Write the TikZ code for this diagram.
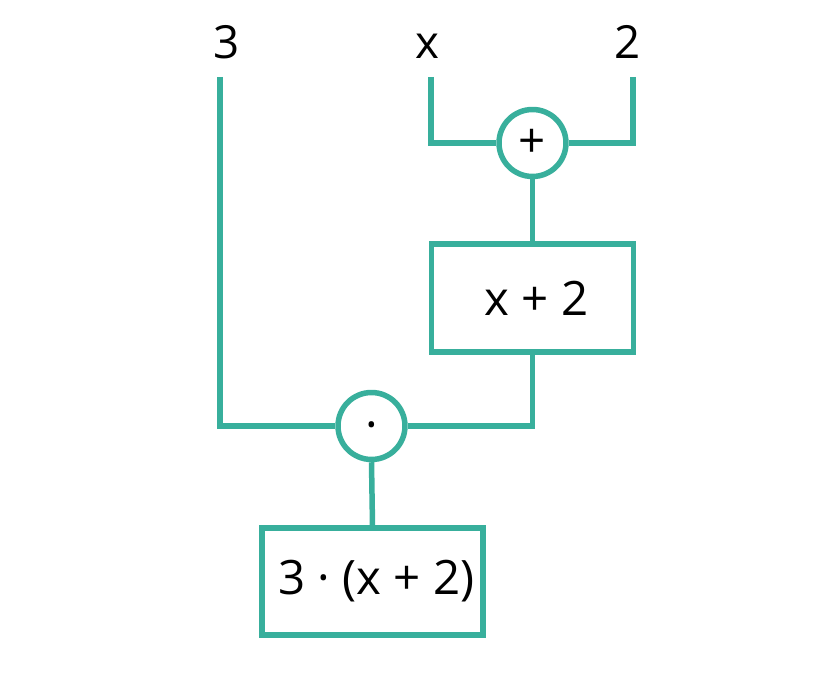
\documentclass[tikz,border=0pt]{standalone}
\usepackage{fontspec}
\setmainfont{Open Sans}
\usetikzlibrary{positioning}
\definecolor{wireteal}{RGB}{56,175,156}

\begin{document}
\begin{tikzpicture}[x=0.02cm,y=-0.02cm,
        wire/.style={wireteal, line width=0.11cm},
        opcirc/.style={circle, draw=wireteal, line width=0.11cm, minimum size=1.34cm, inner sep=0pt, font=\fontsize{27}{27}\selectfont},
        valbox/.style={draw=wireteal, line width=0.11cm, inner sep=0pt, font=\fontsize{27}{27}\selectfont},
        lbl/.style={anchor=base, inner sep=0pt, font=\fontsize{26}{26}\selectfont}]
        \useasboundingbox (0,0) rectangle (840,682);
        % inputs
        \foreach \name/\x/\txt in {three/227/3, xin/427/x, two/628/2}{
            \node[lbl] (\name) at (\x,59) {\txt};
        }
        \foreach \name/\x in {threetop/220, xtop/431, twotop/633}{
            \coordinate (\name) at (\x,77);
        }
        % operations
        \node[opcirc] (plus) at (532.5,143) {+};
        \node[valbox, minimum width=4.04cm, minimum height=2.16cm] (sum) at (532.5,298) {\hspace*{0.16cm}x + 2};
        \node[opcirc] (dot) at (371.5,426) {\smash{\raisebox{-0.33em}{·}}};
        \node[valbox, minimum width=4.42cm, minimum height=2.14cm] (prod) at (372.5,581.5) {\hspace*{0.16cm}3 · (x + 2)};
        % wires
        \draw[wire] (xtop) |- (plus.west);
        \draw[wire] (twotop) |- (plus.east);
        \draw[wire] (plus.south) -- (sum.north);
        \draw[wire] (threetop) |- (dot.west);
        \draw[wire] (sum.south) |- (dot.east);
        \draw[wire] (dot.south) -- (prod.north);
    \end{tikzpicture}
\end{document}
